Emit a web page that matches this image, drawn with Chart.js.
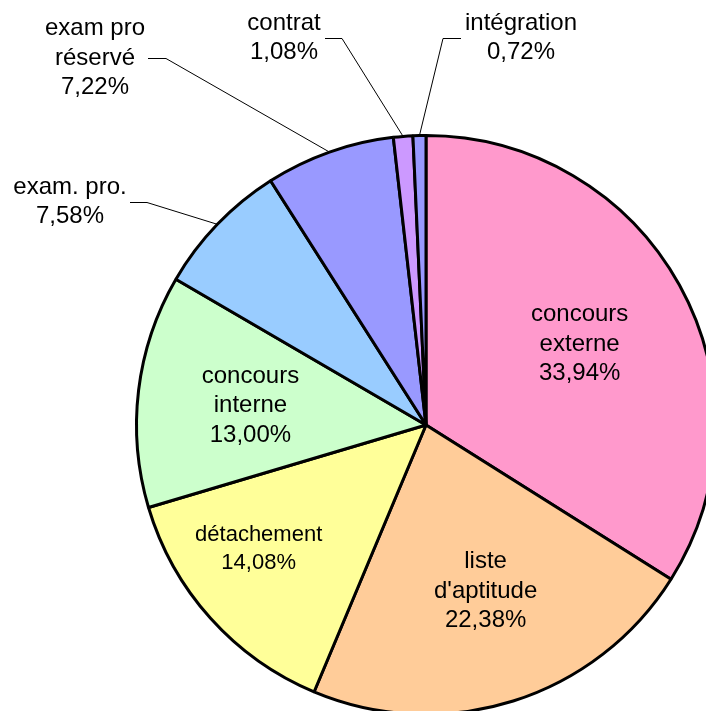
<!DOCTYPE html>
<html>
<head>
<meta charset="utf-8">
<script src="https://cdn.jsdelivr.net/npm/chart.js@4/dist/chart.umd.min.js"></script>
<style>
  body { margin: 0; background: #fff; }
  #wrap { position: relative; width: 706px; height: 711px; overflow: hidden; }
</style>
</head>
<body>
<div id="wrap"><canvas id="pie" width="740" height="740"></canvas></div>
<script>
// data, clockwise from 12 o'clock
const categories = ["concours externe", "liste d'aptitude", "détachement", "concours interne", "exam. pro.", "exam pro réservé", "contrat", "intégration"];
const shares = [33.94, 22.38, 14.08, 13.00, 7.58, 7.22, 1.08, 0.72];

const sliceColors = ["#FF99CC", "#FFCC99", "#FFFF99", "#CCFFCC", "#99CCFF", "#9999FF", "#CC99FF", "#9999FF"];

// how each category name is broken over lines
const nameLines = [["concours", "externe"], ["liste", "d'aptitude"], ["détachement"], ["concours", "interne"], ["exam. pro."], ["exam pro", "réservé"], ["contrat"], ["intégration"]];

// inside labels: fraction of radius + small angle nudge (deg); outside labels: text block + leader
const placement = [
  { inside: true, f: 0.60, turn: 1.1, size: 24, lh: 29.5 },
  { inside: true, f: 0.61, turn: -2.2, size: 24, lh: 29.5 },
  { inside: true, f: 0.72, turn: 5.3, size: 22, lh: 28 },
  { inside: true, f: 0.61, turn: -0.6, size: 24, lh: 29.5 },
  { inside: false, x: 70, y: 202, x1: 130, x2: 147, size: 24, lh: 29.5 },
  { inside: false, x: 95, y: 58, x1: 148, x2: 166, size: 24, lh: 29.5 },
  { inside: false, x: 284, y: 38, x1: 325, x2: 342, size: 24, lh: 29.5 },
  { inside: false, x: 521, y: 38, x1: 461, x2: 443, size: 24, lh: 29.5 }
];

function pct(v) {
  return v.toFixed(2).replace(".", ",") + "%";
}

const pieLabels = {
  id: "pieLabels",
  afterDatasetsDraw(chart) {
    const ctx = chart.ctx;
    const meta = chart.getDatasetMeta(0);
    meta.data.forEach((arc, i) => {
      const p = arc.getProps(["x", "y", "startAngle", "endAngle", "outerRadius"], true);
      const mid = (p.startAngle + p.endAngle) / 2;
      const pl = placement[i];
      const lines = nameLines[i].concat([pct(shares[i])]);
      let cx, cy;
      if (pl.inside) {
        const a = mid + pl.turn * Math.PI / 180;
        cx = p.x + pl.f * p.outerRadius * Math.cos(a);
        cy = p.y + pl.f * p.outerRadius * Math.sin(a);
      } else {
        cx = pl.x;
        cy = pl.y;
        // leader line: short horizontal, then to the rim
        ctx.save();
        ctx.strokeStyle = "#000";
        ctx.lineWidth = 1;
        ctx.beginPath();
        ctx.moveTo(pl.x1, pl.y + 0.5);
        ctx.lineTo(pl.x2, pl.y + 0.5);
        ctx.lineTo(p.x + p.outerRadius * Math.cos(mid), p.y + p.outerRadius * Math.sin(mid));
        ctx.stroke();
        ctx.restore();
      }
      ctx.save();
      ctx.fillStyle = "#000";
      ctx.font = pl.size + "px 'Liberation Sans', Arial, sans-serif";
      ctx.textAlign = "center";
      ctx.textBaseline = "middle";
      const top = cy - (lines.length - 1) * pl.lh / 2;
      lines.forEach((t, k) => ctx.fillText(t, cx, top + k * pl.lh));
      ctx.restore();
    });
  }
};

new Chart(document.getElementById("pie"), {
  type: "pie",
  data: {
    labels: categories,
    datasets: [{
      data: shares,
      backgroundColor: sliceColors,
      borderColor: "#000",
      borderWidth: 3
    }]
  },
  options: {
    responsive: false,
    animation: false,
    layout: { padding: { left: 135, top: 134, right: 23, bottom: 24 } },
    plugins: {
      legend: { display: false },
      tooltip: { enabled: false }
    }
  },
  plugins: [pieLabels]
});
</script>
</body>
</html>
